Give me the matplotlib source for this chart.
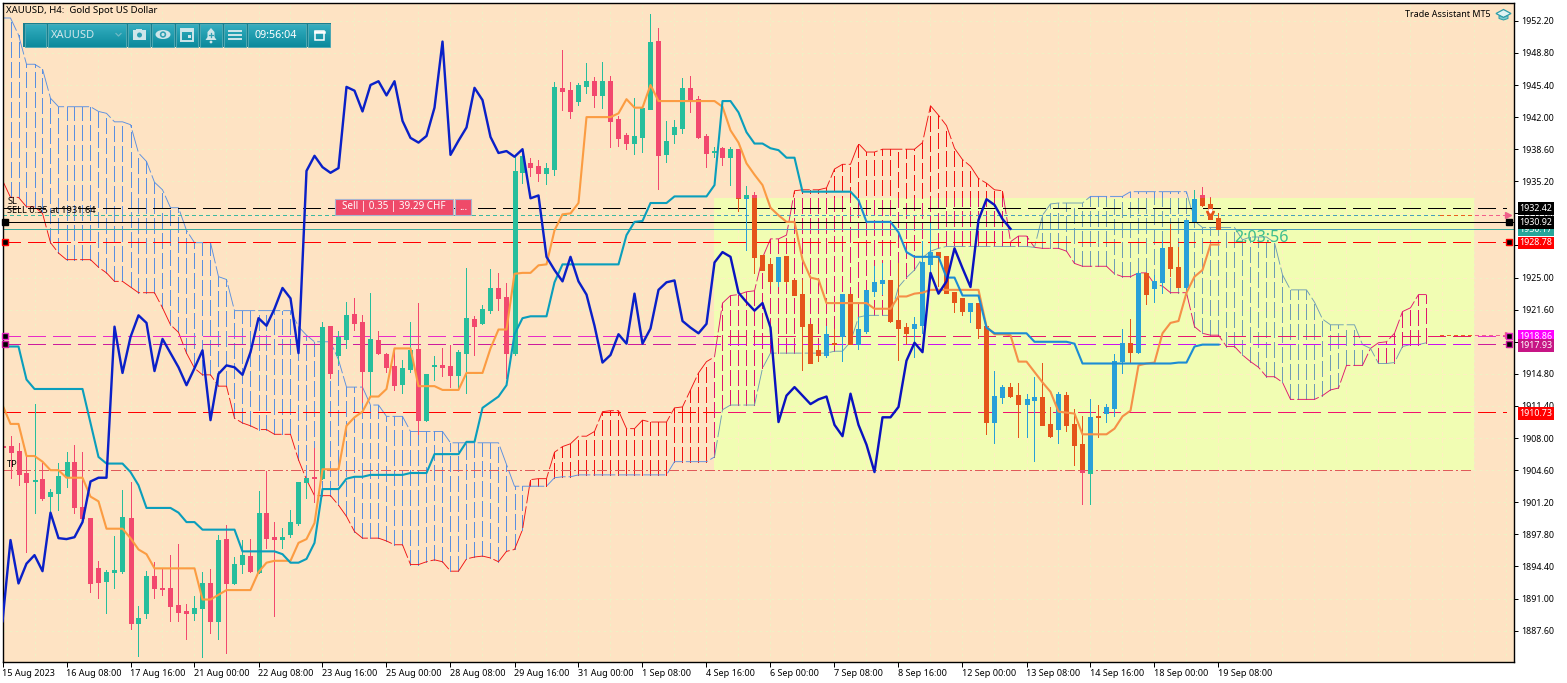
from matplotlib import pyplot as plt
from matplotlib.colors import LinearSegmentedColormap
from matplotlib.patches import Rectangle, Circle, Ellipse, Polygon
import numpy as np

plt.rcParams['font.family'] = ['Noto Sans', 'DejaVu Sans']
plt.rcParams['lines.scale_dashes'] = False

# H4 candles, one value per bar
opens = [1907.2, 1907.2, 1906.6, 1904.3, 1903.5, 1903.7, 1901.9, 1902.2, 1903.9, 1905.5, 1900.7, 1899.5, 1894.2, 1892.9, 1893.8, 1893.9,
         1899.5, 1888.4, 1889.5, 1893.4, 1892.1, 1892.1, 1890.3, 1889.7, 1889.5, 1890.0, 1892.6, 1888.6, 1897.3, 1892.6, 1894.7, 1895.5,
         1893.8, 1900.1, 1897.5, 1897.3, 1897.8, 1899.0, 1903.4, 1903.9, 1903.8, 1919.9, 1916.8, 1918.5, 1921.1, 1920.3, 1915.1, 1918.4,
         1916.9, 1915.6, 1913.7, 1915.3, 1917.4, 1909.9, 1915.6, 1915.7, 1915.6, 1914.7, 1917.0, 1920.6, 1920.2, 1921.6, 1923.9, 1922.9,
         1917.0, 1936.2, 1937.1, 1936.8, 1936.1, 1936.5, 1945.1, 1944.9, 1943.7, 1945.3, 1945.8, 1944.3, 1945.8, 1941.8, 1940.1, 1939.3,
         1939.9, 1942.9, 1950.1, 1938.1, 1940.2, 1940.8, 1945.1, 1943.9, 1940.0, 1938.3, 1938.7, 1937.8, 1938.6, 1933.4, 1933.7, 1927.4,
         1926.4, 1924.6, 1927.3, 1924.7, 1923.3, 1920.1, 1917.3, 1916.8, 1918.1, 1918.8, 1923.3, 1918.0, 1919.3, 1923.6, 1924.4, 1924.7,
         1920.5, 1919.8, 1919.7, 1920.0, 1926.4, 1927.7, 1927.3, 1923.5, 1922.8, 1921.5, 1922.3, 1919.9, 1909.7, 1912.4, 1913.4, 1912.6,
         1911.6, 1912.0, 1912.4, 1909.5, 1909.0, 1912.6, 1909.5, 1907.4, 1904.3, 1910.3, 1910.7, 1911.2, 1916.2, 1918.1, 1917.1, 1925.5,
         1923.9, 1924.5, 1928.2, 1926.1, 1924.0, 1931.0, 1933.7, 1932.8, 1931.3]
highs = [1907.3, 1908.2, 1907.5, 1906.2, 1911.6, 1905.4, 1902.6, 1905.4, 1906.5, 1907.3, 1906.5, 1899.5, 1895.0, 1894.0, 1897.6, 1902.5,
         1903.4, 1890.2, 1893.9, 1894.9, 1894.1, 1895.6, 1896.8, 1890.4, 1891.3, 1893.8, 1894.1, 1897.7, 1898.8, 1895.4, 1897.2, 1897.3,
         1902.4, 1904.5, 1899.1, 1898.5, 1900.4, 1903.4, 1903.8, 1907.0, 1920.3, 1919.9, 1919.3, 1922.4, 1922.8, 1921.0, 1923.4, 1919.3,
         1917.0, 1917.5, 1916.3, 1920.3, 1922.3, 1914.8, 1916.7, 1917.5, 1917.9, 1917.3, 1926.0, 1920.9, 1922.1, 1925.9, 1925.5, 1924.4,
         1937.8, 1938.1, 1937.7, 1937.5, 1937.1, 1945.7, 1949.1, 1945.7, 1945.6, 1947.7, 1946.2, 1947.8, 1946.4, 1942.1, 1940.3, 1944.0,
         1943.1, 1952.9, 1951.4, 1941.6, 1941.7, 1946.1, 1946.4, 1944.2, 1940.2, 1938.8, 1938.8, 1938.8, 1938.6, 1934.7, 1934.1, 1927.4,
         1927.1, 1927.2, 1927.3, 1924.7, 1924.7, 1920.1, 1917.9, 1919.9, 1919.6, 1923.3, 1923.3, 1920.8, 1923.7, 1926.2, 1926.5, 1924.7,
         1926.5, 1920.2, 1920.8, 1928.9, 1930.8, 1927.7, 1927.3, 1923.5, 1922.8, 1922.3, 1922.3, 1919.9, 1915.1, 1913.6, 1913.8, 1913.8,
         1912.7, 1914.5, 1915.9, 1911.3, 1912.9, 1912.9, 1911.1, 1910.3, 1912.1, 1911.5, 1911.6, 1916.9, 1919.6, 1920.6, 1925.7, 1925.5,
         1925.3, 1929.0, 1930.7, 1928.2, 1931.1, 1934.3, 1934.6, 1933.5, 1931.8]
lows = [1907.0, 1903.8, 1903.0, 1895.9, 1900.1, 1901.4, 1900.2, 1900.4, 1902.8, 1900.1, 1899.1, 1891.7, 1891.1, 1889.5, 1892.1, 1893.7,
        1887.8, 1884.9, 1888.9, 1891.1, 1891.4, 1888.6, 1888.6, 1886.7, 1888.7, 1884.8, 1887.4, 1886.7, 1885.2, 1892.5, 1893.7, 1893.8,
        1893.7, 1896.4, 1889.1, 1896.4, 1897.5, 1898.8, 1901.7, 1901.2, 1903.7, 1914.4, 1916.0, 1917.5, 1919.5, 1911.8, 1912.4, 1916.9,
        1915.0, 1913.1, 1912.8, 1915.0, 1908.4, 1909.8, 1914.2, 1914.6, 1913.4, 1913.3, 1912.8, 1916.8, 1920.1, 1921.3, 1921.6, 1914.4,
        1916.8, 1935.0, 1935.8, 1935.2, 1934.9, 1935.9, 1942.8, 1941.9, 1943.3, 1944.6, 1943.1, 1943.0, 1938.8, 1938.9, 1938.6, 1938.1,
        1938.3, 1942.9, 1934.4, 1937.2, 1939.3, 1940.3, 1942.5, 1939.8, 1936.7, 1937.8, 1936.9, 1934.8, 1932.1, 1927.9, 1925.5, 1925.8,
        1924.2, 1924.1, 1924.4, 1923.2, 1915.2, 1915.9, 1916.2, 1916.6, 1917.9, 1916.2, 1918.0, 1917.4, 1919.1, 1923.1, 1923.3, 1920.3,
        1916.3, 1918.0, 1916.6, 1919.1, 1925.1, 1924.1, 1923.4, 1921.4, 1921.0, 1920.3, 1918.6, 1908.4, 1907.5, 1911.7, 1912.4, 1908.1,
        1908.1, 1905.6, 1909.4, 1908.1, 1907.5, 1908.8, 1905.2, 1901.0, 1901.0, 1908.1, 1909.7, 1910.3, 1914.9, 1916.0, 1917.0, 1922.2,
        1922.4, 1923.4, 1925.2, 1924.0, 1923.2, 1931.0, 1932.6, 1931.2, 1930.2]
closes = [1907.1, 1906.5, 1904.2, 1903.4, 1903.6, 1901.7, 1902.3, 1904.0, 1905.5, 1900.7, 1899.5, 1892.7, 1892.8, 1893.8, 1894.0, 1899.6,
          1888.4, 1888.9, 1893.4, 1892.1, 1892.0, 1890.2, 1889.6, 1889.5, 1890.0, 1892.6, 1888.6, 1897.2, 1892.6, 1894.7, 1895.6, 1893.9,
          1900.1, 1897.4, 1897.3, 1897.5, 1899.1, 1903.4, 1903.8, 1903.8, 1919.8, 1914.9, 1918.7, 1921.0, 1920.2, 1915.1, 1918.5, 1917.0,
          1915.5, 1913.6, 1915.4, 1917.3, 1909.9, 1914.8, 1915.7, 1915.5, 1914.7, 1917.1, 1920.7, 1919.9, 1921.7, 1923.9, 1922.8, 1917.0,
          1936.3, 1937.9, 1936.7, 1936.1, 1936.6, 1945.2, 1944.8, 1942.6, 1945.4, 1945.8, 1944.3, 1945.8, 1941.6, 1939.8, 1939.3, 1940.0,
          1943.0, 1950.0, 1938.0, 1939.5, 1940.9, 1945.1, 1943.8, 1939.9, 1938.2, 1938.4, 1937.8, 1938.6, 1933.4, 1933.7, 1927.2, 1925.8,
          1924.6, 1927.2, 1924.6, 1923.2, 1919.9, 1916.0, 1916.8, 1919.0, 1918.0, 1923.3, 1918.0, 1919.6, 1923.7, 1924.5, 1924.7, 1920.4,
          1919.7, 1919.1, 1920.1, 1926.6, 1927.7, 1927.2, 1923.4, 1922.4, 1921.5, 1922.3, 1919.7, 1909.7, 1912.5, 1913.4, 1912.5, 1911.6,
          1912.1, 1912.4, 1909.4, 1908.2, 1912.7, 1909.4, 1907.3, 1904.4, 1910.2, 1910.2, 1911.3, 1916.2, 1918.1, 1917.1, 1925.5, 1923.3,
          1924.6, 1928.1, 1926.0, 1924.0, 1931.1, 1933.3, 1932.7, 1931.2, 1930.17]

# Ichimoku lines
tenkan = [1911.5, 1909.5, 1909.5, 1906.1, 1906.1, 1905.5, 1904.6, 1904.6, 1903.8, 1903.8, 1903.8, 1901.8, 1901.3, 1898.4, 1898.4, 1898.4,
          1897.4, 1896.2, 1895.7, 1894.2, 1894.2, 1894.2, 1894.2, 1894.2, 1894.2, 1890.9, 1890.9, 1891.4, 1891.9, 1891.9, 1891.9, 1891.9,
          1893.8, 1894.8, 1895.0, 1895.0, 1895.0, 1896.9, 1897.3, 1899.0, 1904.7, 1904.7, 1904.7, 1909.3, 1910.2, 1910.8, 1912.4, 1912.4,
          1913.2, 1917.5, 1917.5, 1917.5, 1913.5, 1913.5, 1913.5, 1913.1, 1913.1, 1913.1, 1914.9, 1914.9, 1914.9, 1917.5, 1919.5, 1919.5,
          1925.4, 1925.5, 1925.5, 1926.3, 1926.4, 1930.0, 1931.7, 1931.8, 1932.9, 1942.0, 1942.0, 1942.0, 1942.0, 1942.4, 1943.9, 1943.0,
          1943.0, 1945.4, 1943.7, 1943.7, 1943.7, 1943.7, 1943.7, 1943.7, 1943.7, 1943.7, 1943.1, 1940.6, 1939.3, 1937.1, 1935.9, 1934.8,
          1932.4, 1931.6, 1930.9, 1930.9, 1926.9, 1925.0, 1924.8, 1922.3, 1922.3, 1922.3, 1922.3, 1922.3, 1922.3, 1921.7, 1921.7, 1921.7,
          1923.0, 1923.0, 1923.3, 1923.4, 1923.7, 1923.7, 1923.7, 1923.7, 1923.7, 1923.7, 1923.7, 1919.8, 1919.0, 1919.0, 1918.9, 1916.1,
          1916.1, 1915.0, 1913.9, 1912.9, 1910.8, 1910.7, 1910.6, 1908.4, 1908.4, 1908.4, 1908.4, 1909.0, 1910.3, 1910.9, 1915.7, 1915.9,
          1916.0, 1919.1, 1920.2, 1920.4, 1923.4, 1925.1, 1925.8, 1928.5, 1928.5]
kijun = [1917.7, 1917.7, 1917.7, 1914.2, 1913.2, 1913.2, 1913.2, 1913.2, 1913.2, 1913.2, 1913.2, 1909.6, 1906.0, 1905.3, 1905.3, 1905.3,
         1904.4, 1903.0, 1900.6, 1900.6, 1900.6, 1900.6, 1900.1, 1899.1, 1899.1, 1898.3, 1898.3, 1898.3, 1898.3, 1898.3, 1896.0, 1896.0,
         1896.0, 1896.0, 1896.0, 1895.7, 1894.8, 1894.8, 1895.2, 1896.9, 1902.6, 1902.6, 1902.6, 1903.7, 1903.9, 1903.9, 1904.1, 1904.1,
         1904.1, 1904.1, 1904.1, 1904.3, 1904.3, 1904.3, 1906.3, 1906.3, 1906.3, 1906.3, 1907.6, 1907.6, 1911.2, 1911.8, 1912.4, 1913.6,
         1919.0, 1920.7, 1920.9, 1920.9, 1920.9, 1924.5, 1926.4, 1926.4, 1926.4, 1926.4, 1926.4, 1926.4, 1926.4, 1926.4, 1929.5, 1930.9,
         1931.0, 1932.9, 1932.9, 1932.9, 1933.6, 1933.6, 1933.6, 1933.6, 1933.6, 1934.8, 1943.7, 1943.7, 1942.5, 1940.4, 1939.2, 1939.2,
         1938.7, 1938.5, 1937.7, 1937.7, 1934.1, 1934.1, 1934.1, 1934.1, 1934.1, 1934.1, 1934.1, 1933.2, 1930.9, 1930.9, 1930.9, 1930.9,
         1929.8, 1927.7, 1927.2, 1927.2, 1927.2, 1927.2, 1925.0, 1925.0, 1923.1, 1923.1, 1923.1, 1919.7, 1919.1, 1919.1, 1919.1, 1919.1,
         1919.1, 1918.2, 1918.2, 1918.2, 1918.2, 1918.2, 1918.0, 1915.9, 1915.9, 1915.9, 1915.9, 1915.9, 1915.9, 1915.9, 1915.9, 1915.9,
         1915.9, 1915.9, 1915.9, 1916.0, 1916.0, 1917.7, 1917.9, 1917.9, 1917.9]
span_a = [1935.3, 1933.5, 1933.5, 1932.5, 1932.5, 1931.8, 1928.7, 1927.6, 1926.9, 1926.9, 1926.9, 1926.9, 1926.1, 1925.5, 1924.6, 1924.6,
          1924.0, 1923.4, 1923.4, 1923.4, 1921.8, 1920.0, 1919.2, 1917.0, 1915.4, 1914.7, 1914.7, 1913.5, 1913.5, 1910.1, 1909.6, 1909.3,
          1908.9, 1908.9, 1908.4, 1908.4, 1908.4, 1905.7, 1903.6, 1901.9, 1901.9, 1901.9, 1900.9, 1899.7, 1898.1, 1897.4, 1897.4, 1897.4,
          1897.1, 1896.7, 1896.7, 1894.6, 1894.6, 1894.9, 1895.1, 1894.9, 1893.9, 1893.9, 1895.2, 1895.4, 1895.5, 1895.3, 1894.9, 1896.0,
          1896.2, 1898.3, 1903.6, 1903.7, 1903.7, 1906.5, 1907.1, 1907.4, 1908.2, 1908.2, 1908.7, 1910.8, 1910.9, 1910.9, 1909.0, 1909.0,
          1909.9, 1909.7, 1909.7, 1909.7, 1911.2, 1911.3, 1913.1, 1914.9, 1916.1, 1916.6, 1922.3, 1923.1, 1923.2, 1923.5, 1923.6, 1927.1,
          1929.1, 1929.1, 1929.5, 1934.2, 1934.3, 1934.3, 1934.3, 1934.5, 1936.5, 1937.0, 1937.0, 1939.2, 1938.3, 1938.3, 1938.6, 1938.6,
          1938.6, 1938.6, 1938.6, 1939.3, 1943.2, 1942.2, 1941.1, 1938.7, 1937.5, 1936.8, 1935.5, 1935.0, 1934.3, 1934.2, 1928.8, 1929.4,
          1929.4, 1928.2, 1928.1, 1928.1, 1928.1, 1927.8, 1926.5, 1926.2, 1926.2, 1926.2, 1926.2, 1925.4, 1925.1, 1925.1, 1925.5, 1925.5,
          1924.3, 1924.1, 1923.4, 1923.4, 1923.4, 1919.8, 1919.1, 1918.9, 1918.9, 1917.7, 1917.7, 1916.8, 1916.1, 1915.5, 1914.5, 1914.5,
          1913.9, 1912.1, 1912.1, 1912.1, 1912.1, 1912.5, 1913.1, 1913.3, 1915.7, 1915.7, 1915.7, 1917.5, 1918.1, 1918.2, 1919.1, 1921.4,
          1921.8, 1923.2, 1923.2]
span_b = [1952.5, 1952.5, 1950.7, 1947.6, 1947.6, 1947.1, 1944.0, 1943.1, 1943.1, 1943.1, 1943.1, 1943.1, 1942.6, 1942.4, 1941.5, 1941.5,
          1941.2, 1938.2, 1937.3, 1935.1, 1934.3, 1932.4, 1932.4, 1930.0, 1928.7, 1928.7, 1928.7, 1925.1, 1924.8, 1921.5, 1921.5, 1921.5,
          1921.5, 1921.5, 1921.5, 1921.5, 1921.5, 1919.8, 1918.9, 1918.2, 1918.2, 1918.2, 1916.3, 1913.4, 1913.4, 1913.4, 1911.5, 1911.5,
          1910.3, 1910.3, 1910.3, 1908.7, 1908.7, 1908.7, 1908.7, 1908.7, 1907.5, 1907.5, 1907.5, 1907.5, 1907.5, 1907.5, 1907.5, 1905.2,
          1902.9, 1902.9, 1902.9, 1902.9, 1902.9, 1903.8, 1903.9, 1903.9, 1904.1, 1904.1, 1904.1, 1904.1, 1904.1, 1904.1, 1904.1, 1904.1,
          1904.1, 1904.1, 1904.1, 1904.1, 1905.5, 1905.5, 1905.5, 1905.5, 1905.5, 1906.0, 1911.0, 1911.5, 1911.5, 1911.5, 1911.5, 1915.4,
          1917.0, 1917.0, 1917.0, 1917.0, 1917.0, 1917.0, 1917.0, 1917.0, 1917.2, 1917.2, 1918.2, 1920.8, 1921.0, 1921.0, 1921.0, 1921.0,
          1924.0, 1925.0, 1925.8, 1927.1, 1927.8, 1928.1, 1928.3, 1928.3, 1928.3, 1928.3, 1928.3, 1928.3, 1928.3, 1928.3, 1928.3, 1928.3,
          1928.3, 1928.2, 1931.6, 1932.8, 1932.9, 1932.9, 1932.9, 1932.9, 1933.6, 1933.6, 1933.6, 1933.6, 1933.6, 1934.1, 1934.1, 1934.1,
          1934.1, 1934.1, 1934.1, 1934.1, 1934.1, 1931.0, 1930.3, 1930.3, 1930.3, 1930.3, 1930.3, 1929.0, 1929.3, 1929.3, 1929.3, 1928.7,
          1925.3, 1923.7, 1923.7, 1923.7, 1922.4, 1920.6, 1920.0, 1920.0, 1920.0, 1920.0, 1917.9, 1917.5, 1915.9, 1915.9, 1916.0, 1917.7,
          1917.9, 1917.9, 1918.1]

time_labels = ['15 Aug 2023', '16 Aug 08:00', '17 Aug 16:00', '21 Aug 00:00', '22 Aug 08:00', '23 Aug 16:00', '25 Aug 00:00',
               '28 Aug 08:00', '29 Aug 16:00', '31 Aug 00:00', '1 Sep 08:00', '4 Sep 16:00', '6 Sep 00:00', '7 Sep 08:00',
               '8 Sep 16:00', '12 Sep 00:00', '13 Sep 08:00', '14 Sep 16:00', '18 Sep 00:00', '19 Sep 08:00']
price_ticks = [1887.6, 1891.0, 1894.4, 1897.8, 1901.2, 1904.6, 1908.0, 1911.4, 1914.8, 1918.2, 1921.6, 1925.0, 1928.4, 1931.8,
               1935.2, 1938.6, 1942.0, 1945.4, 1948.8, 1952.2]

# trade levels
level_sl = 1932.42
level_entry = 1931.64
level_black = 1930.92
level_bid = 1930.17
level_red = 1928.78
level_upper = 1918.86
level_lower = 1917.93
level_low_red = 1910.73
level_tp = 1904.60

box_prices = [1930.17, 1932.42, 1930.92, 1928.78, 1918.86, 1917.93, 1910.73]
box_colors = ['#26A69A', '#000000', '#000000', '#FF0000', '#FF00FF', '#C71585', '#FF0000']

# yellow rectangle drawn on the chart, in bar numbers and price
rect_left, rect_right = 88.94, 184.0
rect_top, rect_bottom = 1933.43, 1904.6

px = 0.72   # one pixel in points at dpi 100
fs = 6.4
long_dash = (0, (17*px, 7*px))
cloud_dash = (0, (16*px, 5*px))
short_dash = (0, (4*px, 4*px))
dash_dot = (0, (10*px, 4*px, 2*px, 4*px))

outside = dict(up='#26BE9C', down='#F2486E', red='#F01212', blue='#5A8FE0', tenkan='#FB9C42', kijun='#0A9EBC',
               chikou='#0A20C8', sl='#000000', entry='#3DB8A0', bid='#3BA99C', lv_red='#FF0000', upper='#E82CC8',
               lower='#CC1C9C', low_red='#FF0000', tp='#E05A5A', order='#F0608A')
inside = dict(up='#28A0D8', down='#E5541A', red='#E0146E', blue='#6F9DB4', tenkan='#F59048', kijun='#1C8CD4',
              chikou='#0A12C0', sl='#000000', entry='#4A9FB8', bid='#4A9FB8', lv_red='#FF0000', upper='#E5176F',
              lower='#CC10F0', low_red='#F0146E', tp='#E0501A', order='#E86020')

fig = plt.figure(figsize=(15.67, 6.83), dpi=100, facecolor='white')
ax = fig.add_axes([2.5/1567, 1 - 662/683, (1514 - 2.5)/1567, (662 - 2.5)/683], facecolor='#FEE3C3')
ax.set_xlim(0, (1514 - 2.5)/8)
ax.set_ylim(1884.28, 1954.14)

grid_x = np.arange(0, 189, 4)
ax.set_xticks(grid_x, minor=True)
ax.set_xticks(np.arange(len(time_labels))*8)
ax.set_xticklabels(time_labels, ha='left', fontsize=fs + 0.1)
ax.set_yticks(price_ticks)
ax.set_yticklabels(['%.2f' % p for p in price_ticks], fontsize=fs)
ax.yaxis.tick_right()
ax.tick_params(axis='x', which='major', length=3.6, width=0.72, pad=1.5)
ax.tick_params(axis='x', which='minor', length=0)
ax.tick_params(axis='y', length=3, width=0.72, pad=2.0)
for spine in ax.spines.values():
    spine.set_linewidth(1.0)
ax.grid(True, which='both', color='#F0F0C4', lw=0.72, ls=(0, (3*px, 3*px)), zorder=0.5)
ax.set_axisbelow(True)


def draw_chart(pal, base, clip=None):
    bars = np.arange(len(closes))
    o = np.array(opens)
    c = np.array(closes)
    h = np.array(highs)
    l = np.array(lows)
    a = np.array(span_a)
    b = np.array(span_b)
    cloud_x = np.arange(len(span_a))
    rising = c >= o
    above = a >= b
    art = []
    # cloud
    art.append(ax.vlines(cloud_x[above], b[above], a[above], color=pal['red'], lw=px, linestyles=cloud_dash,
                         antialiased=False, zorder=base))
    art.append(ax.vlines(cloud_x[~above], a[~above], b[~above], color=pal['blue'], lw=px, linestyles=cloud_dash,
                         antialiased=False, zorder=base))
    art += ax.plot(cloud_x, a, color=pal['red'], lw=0.9*px, ls=(0, (22*px, 3*px)), zorder=base + 0.1)
    art += ax.plot(cloud_x, b, color=pal['blue'], lw=0.9*px, ls=(0, (22*px, 3*px)), zorder=base + 0.1)
    # levels
    end = 187.9
    art += ax.plot([0, end], [level_sl]*2, color=pal['sl'], lw=px, ls=long_dash, antialiased=False, zorder=base + 0.2)
    art += ax.plot([0, 179.7], [level_entry]*2, color=pal['entry'], lw=px, ls=short_dash, antialiased=False, zorder=base + 0.2)
    art += ax.plot([179.7, 188], [level_entry]*2, color=pal['order'], lw=px, ls=short_dash, antialiased=False, zorder=base + 0.2)
    art += ax.plot([179.7, 188], [level_upper + 0.1]*2, color=pal['order'], lw=px, ls=short_dash, antialiased=False, zorder=base + 0.2)
    art += ax.plot([0, 189], [level_black]*2, color=pal['sl'], lw=px, antialiased=False, zorder=base + 0.2)
    art += ax.plot([0, 189], [level_bid]*2, color=pal['bid'], lw=px, antialiased=False, zorder=base + 0.2)
    art += ax.plot([0, end], [level_red]*2, color=pal['lv_red'], lw=px, ls=long_dash, antialiased=False, zorder=base + 0.2)
    art += ax.plot([0, end], [level_upper]*2, color=pal['upper'], lw=px, ls=long_dash, antialiased=False, zorder=base + 0.2)
    art += ax.plot([0, end], [level_lower]*2, color=pal['lower'], lw=px, ls=long_dash, antialiased=False, zorder=base + 0.2)
    art += ax.plot([0, end], [level_low_red]*2, color=pal['low_red'], lw=px, ls=long_dash, antialiased=False, zorder=base + 0.2)
    art += ax.plot([0, rect_right], [level_tp]*2, color=pal['tp'], lw=px, ls=dash_dot, antialiased=False, zorder=base + 0.2)
    # candles
    for mask, col in ((rising, pal['up']), (~rising, pal['down'])):
        art.append(ax.vlines(bars[mask], l[mask], h[mask], color=col, lw=px, antialiased=False, zorder=base + 0.3))
        art.append(ax.vlines(bars[mask], np.minimum(o, c)[mask], np.maximum(o, c)[mask], color=col, lw=5*px,
                             capstyle='butt', antialiased=False, zorder=base + 0.4))
    # ichimoku lines
    art += ax.plot(bars, tenkan, color=pal['tenkan'], lw=2.1*px, zorder=base + 0.5)
    art += ax.plot(bars, kijun, color=pal['kijun'], lw=2.1*px, zorder=base + 0.6)
    art += ax.plot(bars[:len(closes) - 26], closes[26:], color=pal['chikou'], lw=2.4*px, zorder=base + 0.7)
    art += ax.plot([151], [level_entry], marker='v', ms=5.5, color=pal['down'], ls='none', zorder=base + 0.8)
    art += ax.plot([151], [level_entry + 0.45], marker='v', ms=2.5, color='white', ls='none', zorder=base + 0.9)
    if clip is not None:
        for a_ in art:
            a_.set_clip_path(clip)


draw_chart(outside, 2)
rect = Rectangle((rect_left, rect_bottom), rect_right - rect_left, rect_top - rect_bottom, fc='#F1FDB3', ec='none', zorder=5)
ax.add_patch(rect)
ax.vlines(grid_x, rect_bottom, rect_top, color='#FFEFC0', lw=px, linestyles=(0, (3*px, 3*px)), zorder=5.1, clip_path=rect, antialiased=False)
ax.hlines(price_ticks, rect_left, rect_right, color='#FFEFC0', lw=px, linestyles=(0, (3*px, 3*px)), zorder=5.1, clip_path=rect, antialiased=False)
draw_chart(inside, 6, clip=rect)

# order arrows and level squares at the chart edges
ax.plot([188.15, 188.15], [level_entry, level_upper + 0.1], ls='none', marker='>', ms=5, color='#F0608A', zorder=9, clip_on=False)
edge_prices = [level_black, level_red, level_upper, level_lower]
edge_colors = ['#000000', '#FF0000', '#E82CC8', '#CC1C9C']
for p, col in zip(edge_prices, edge_colors):
    ax.plot([0.25, 188.3], [p, p], ls='none', marker='s', ms=3.8, mfc='#000000', mec=col, mew=1.0, zorder=9.5, clip_on=False)

ax.text(0.6, level_tp + 0.6, 'TP', fontsize=6.7, color='#000000', zorder=1.5, va='center')
ax.text(0.6, 1933.05, 'SL', fontsize=6.7, color='#000000', zorder=9, va='center')
ax.text(0.6, 1932.15, 'SELL 0.35 at 1931.64', fontsize=6.7, color='#000000', zorder=9, va='center')
ax.text(154.0, 1929.2, '2:03:56', fontsize=11.6, color='#3DBE8E', va='center', zorder=9)

# price boxes on the scale
for p, col in zip(box_prices, box_colors):
    ax.text(1.0035, p, '%.2f' % p, transform=ax.get_yaxis_transform(), fontsize=fs, color='white', va='center_baseline',
            ha='left', zorder=20, clip_on=False, bbox=dict(boxstyle='square,pad=0.2', fc=col, ec='none'))

# overlay in pixels for the title and the panels
ov = fig.add_axes([0, 0, 1, 1], facecolor='none', zorder=5)
ov.axis('off')
teal = LinearSegmentedColormap.from_list('teal', ['#34AEC0', '#0C8A9C'])
grad = np.linspace(0, 1, 24).reshape(-1, 1)


def panel(x0, x1, y0=24, y1=47):
    ov.imshow(grad, extent=(x0, x1, y1, y0), aspect='auto', cmap=teal, zorder=2)
    ov.add_patch(Rectangle((x0, y0), x1 - x0, y1 - y0, fc='none', ec='#4FA9B4', lw=0.7, zorder=3))


ov.add_patch(Rectangle((23, 23), 308, 24, fc='#177F8E', ec='none', zorder=1))
for x0, x1 in [(25, 46), (48, 126), (128, 150), (152, 174), (176, 198), (200, 222), (224, 246), (248, 306), (308, 330)]:
    panel(x0, x1)

icon = '#CFE6EA'
ov.text(51, 35.5, 'XAUUSD', fontsize=8.0, color='#CFE6EA', va='center', zorder=4)
ov.plot([116, 118.5, 121], [33.5, 36, 33.5], color='#6FB9C4', lw=0.9, zorder=4)
ov.text(276, 35.5, '09:56:04', fontsize=7.7, color='white', va='center', ha='center', zorder=4)
# camera
ov.add_patch(Rectangle((133, 30), 13, 10, fc=icon, ec='none', zorder=4))
ov.add_patch(Rectangle((136, 28.5), 6, 2, fc=icon, ec='none', zorder=4))
ov.add_patch(Circle((139.5, 35), 2.5, fc='#2FA0B2', ec='none', zorder=5))
# eye
ov.add_patch(Ellipse((163, 34.5), 15, 9, fc=icon, ec='none', zorder=4))
ov.add_patch(Circle((163, 34.5), 3.2, fc='#2FA0B2', ec='none', zorder=5))
ov.add_patch(Circle((163, 34.5), 1.6, fc=icon, ec='none', zorder=6))
# calendar
ov.add_patch(Rectangle((181, 29), 12, 12, fc='none', ec=icon, lw=1.4, zorder=4))
ov.add_patch(Rectangle((181, 29), 12, 3, fc=icon, ec='none', zorder=4))
ov.add_patch(Rectangle((188, 35), 3, 3, fc=icon, ec='none', zorder=4))
# bell
ov.add_patch(Polygon([(205.5, 40), (207.5, 37), (207.5, 32), (211, 28), (214.5, 32), (214.5, 37), (216.5, 40)], fc=icon, ec='none', zorder=4))
ov.add_patch(Circle((211, 42), 1.4, fc=icon, ec='none', zorder=4))
ov.plot([209, 213], [34.5, 34.5], color='#2FA0B2', lw=0.9, zorder=5)
ov.plot([211, 211], [32.5, 36.5], color='#2FA0B2', lw=0.9, zorder=5)
# menu
for y in (31, 35, 39):
    ov.plot([229, 241], [y, y], color=icon, lw=1.4, zorder=4)
# restore box
ov.add_patch(Rectangle((315, 31), 9, 9, fc='none', ec='white', lw=1.1, zorder=4))
ov.plot([315, 324], [31.5, 31.5], color='white', lw=1.8, zorder=4)

# sell panel
ov.add_patch(Rectangle((335, 199), 118, 16, fc='#EF4A69', ec='#A9B5D0', lw=0.8, zorder=2))
ov.add_patch(Rectangle((455, 199), 16, 16, fc='#EF4A69', ec='#A9B5D0', lw=0.8, zorder=2))
ov.text(394, 207, 'Sell | 0.35 | 39.29 CHF', fontsize=7.1, color='white', ha='center', va='center', zorder=3)
ov.text(463, 207.5, '...', fontsize=7.1, color='white', ha='center', va='center', zorder=3)

ov.text(6, 10.5, 'XAUUSD, H4:  Gold Spot US Dollar', fontsize=6.9, color='black', va='center', zorder=3)
ov.text(1491, 14.5, 'Trade Assistant MT5', fontsize=6.45, color='black', va='center', ha='right', zorder=3)
# cap icon
ov.add_patch(Polygon([(1496, 13.5), (1503.5, 9.5), (1511, 13.5), (1503.5, 17.5)], fc='#DFF3F2', ec='#2C9CA8', lw=0.9, zorder=3))
ov.add_patch(Polygon([(1499, 15.5), (1499, 18.5), (1503.5, 20), (1508, 18.5), (1508, 15.5), (1503.5, 17.5)], fc='#7CCBD0', ec='#2C9CA8', lw=0.7, zorder=3))

ov.set_xlim(0, 1567)
ov.set_ylim(683, 0)

fig.savefig('out.png', dpi=100)
